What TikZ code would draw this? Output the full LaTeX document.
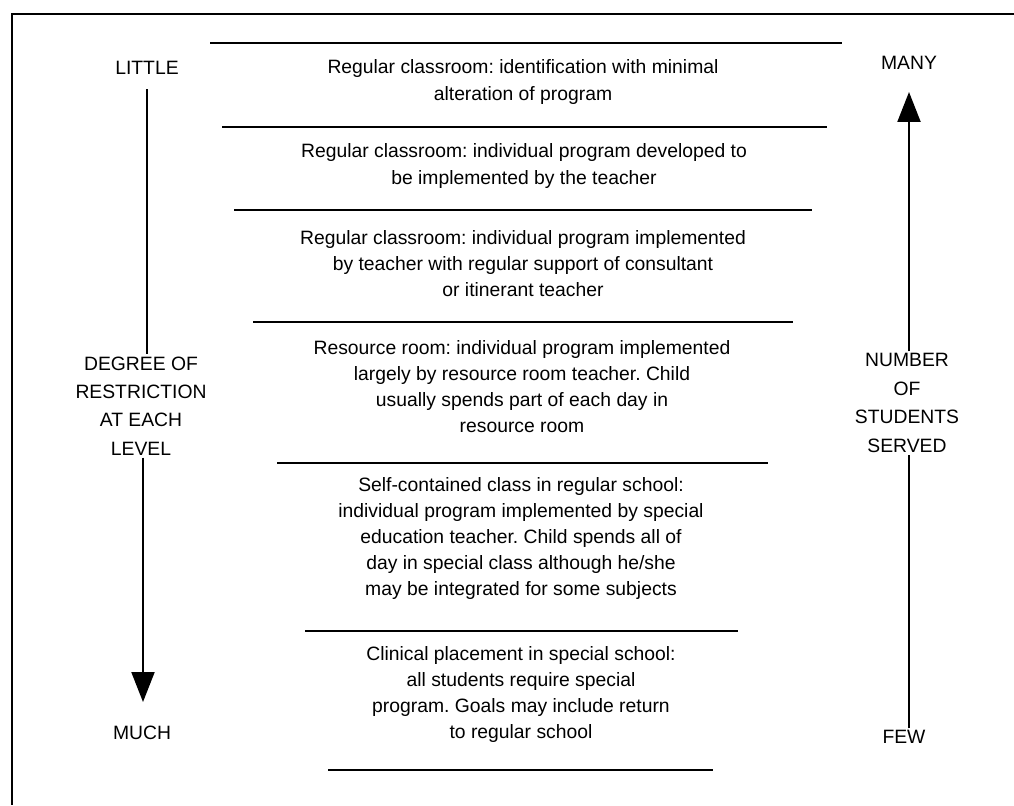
\documentclass[tikz,border=0pt]{standalone}
\usepackage{fontspec}
\setmainfont{Liberation Sans}
\usetikzlibrary{positioning, arrows.meta}

\begin{document}
\frenchspacing
\begin{tikzpicture}[
    x=0.02cm, y=-0.02cm,
    level/.style={align=center, inner sep=1pt, font=\fontsize{11}{14.8}\selectfont},
    side/.style={align=center, inner sep=1pt, font=\fontsize{11}{16.2}\selectfont},
    rule/.style={line width=1.6pt},
    axis/.style={line width=1.2pt},
    arrow/.style={axis, -{Triangle[width=0.46cm, length=0.6cm]}}
  ]
  \useasboundingbox (0,0) rectangle (1014,805);
  % frame
  \draw[line width=1pt] (1014,14) -- (12,14) -- (12,805);

  % separators between levels
  \foreach \y/\xa/\xb in {43/210/842, 127/222/827, 210/234/812, 322/253/793,
                          463/277/768, 631/305/738, 770/328/713}
    \draw[rule] (\xa,\y) -- (\xb,\y);

  % levels
  \node[level] (lvla) at (523,82) {Regular classroom: identification with minimal\\alteration of program};
  \node[level] (lvlb) at (524,166) {Regular classroom: individual program developed to\\be implemented by the teacher};
  \node[level] (lvlc) at (523,264) {Regular classroom: individual program implemented\\by teacher with regular support of consultant\\or itinerant teacher};
  \node[level] (lvld) at (522,387) {Resource room: individual program implemented\\largely by resource room teacher. Child\\usually spends part of each day in\\resource room};
  \node[level] (lvle) at (521,538) {Self-contained class in regular school:\\individual program implemented by special\\education teacher. Child spends all of\\day in special class although he/she\\may be integrated for some subjects};
  \node[level] (lvlf) at (521,694) {Clinical placement in special school:\\all students require special\\program. Goals may include return\\to regular school};

  % restriction scale
  \node[side] (little) at (147,68) {LITTLE};
  \node[side] (degree) at (141,406) {DEGREE OF\\RESTRICTION\\AT EACH\\LEVEL};
  \node[side] (much) at (142,733) {MUCH};
  \coordinate (muchtip) at (143,702);
  \draw[axis, shorten <=7pt] (little) -- (little |- degree.north);
  \draw[arrow] (muchtip |- degree.south) -- (muchtip);

  % number served scale
  \node[side] (many) at (909,63) {MANY};
  \node[side] (number) at (907,403) {NUMBER\\OF\\STUDENTS\\SERVED};
  \node[side] (few) at (904,737) {FEW};
  \coordinate (manytip) at (909,92);
  \draw[axis] (few.north -| manytip) -- (manytip |- number.south);
  \draw[arrow] (manytip |- number.north) -- (manytip);
\end{tikzpicture}
\end{document}
